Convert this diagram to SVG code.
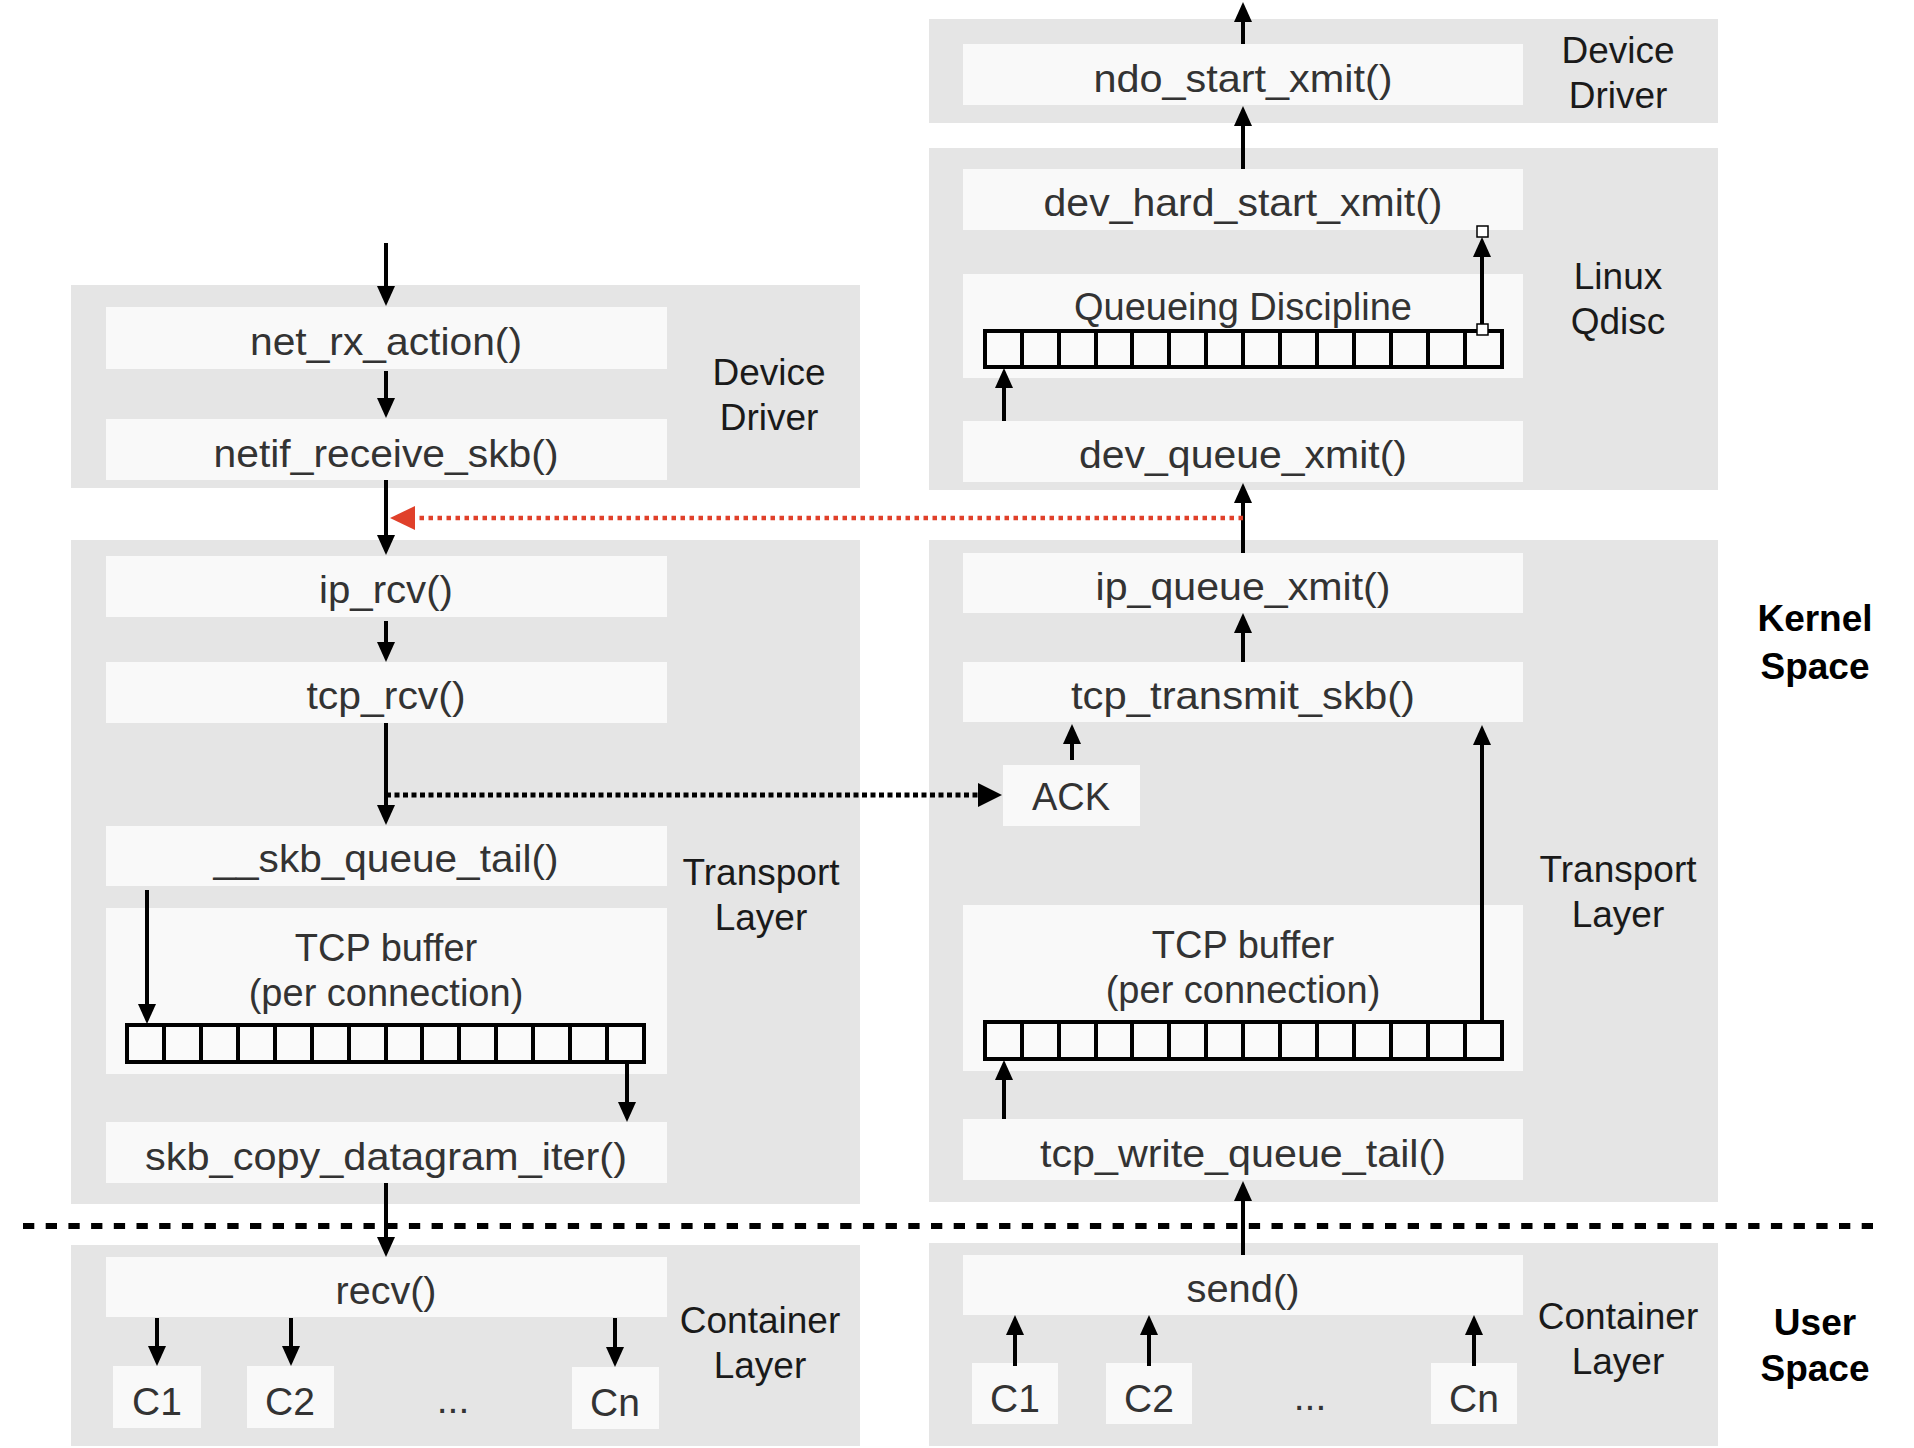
<svg xmlns="http://www.w3.org/2000/svg" width="1914" height="1448" viewBox="0 0 1914 1448">
<style>
.panel{fill:#e5e5e5}
.box{fill:#f9f9f9}
.fn{font-family:"Liberation Sans",Arial,sans-serif;font-size:39px;fill:#333;text-anchor:middle}
.tx{font-family:"Liberation Sans",Arial,sans-serif;font-size:38px;fill:#333;text-anchor:middle}
.lbl{font-family:"Liberation Sans",Arial,sans-serif;font-size:37px;fill:#1a1a1a;text-anchor:middle}
.bold{font-family:"Liberation Sans",Arial,sans-serif;font-size:37px;font-weight:bold;fill:#000;text-anchor:middle}
.arrow{stroke:#000;stroke-width:4;fill:none;marker-end:url(#ah)}
.q{fill:#fafafa;stroke:#000;stroke-width:4}
.ql{stroke:#000;stroke-width:4;fill:none}
.handle{fill:#fff;stroke:#000;stroke-width:1.5}
</style>
<defs>
<marker id="ah" markerUnits="userSpaceOnUse" viewBox="0 0 20 18" markerWidth="20" markerHeight="18" refX="12" refY="9" orient="auto"><path d="M0,0 L20,9 L0,18 z" fill="#000"/></marker>
<marker id="ahBig" markerUnits="userSpaceOnUse" viewBox="0 0 24 24" markerWidth="24" markerHeight="24" refX="16" refY="12" orient="auto"><path d="M0,0 L24,12 L0,24 z" fill="#000"/></marker>
<marker id="ahRed" markerUnits="userSpaceOnUse" viewBox="0 0 25 24" markerWidth="25" markerHeight="24" refX="17" refY="12" orient="auto"><path d="M0,0 L25,12 L0,24 z" fill="#e0402a"/></marker>
</defs>
<rect width="1914" height="1448" fill="#fff"/>

<g id="panels">
<rect id="rx-driver-panel" class="panel" x="71" y="285" width="789" height="203"/>
<rect id="rx-transport-panel" class="panel" x="71" y="540" width="789" height="664"/>
<rect id="rx-container-panel" class="panel" x="71" y="1245" width="789" height="201"/>
<rect id="tx-driver-panel" class="panel" x="929" y="19" width="789" height="104"/>
<rect id="tx-qdisc-panel" class="panel" x="929" y="148" width="789" height="342"/>
<rect id="tx-transport-panel" class="panel" x="929" y="540" width="789" height="662"/>
<rect id="tx-container-panel" class="panel" x="929" y="1243" width="789" height="203"/>
</g>

<g id="labels">
<text class="lbl" x="769" y="385">Device</text><text class="lbl" x="769" y="430">Driver</text>
<text class="lbl" x="761" y="885">Transport</text><text class="lbl" x="761" y="930">Layer</text>
<text class="lbl" x="760" y="1333">Container</text><text class="lbl" x="760" y="1378">Layer</text>
<text class="lbl" x="1618" y="63">Device</text><text class="lbl" x="1618" y="108">Driver</text>
<text class="lbl" x="1618" y="289">Linux</text><text class="lbl" x="1618" y="334">Qdisc</text>
<text class="lbl" x="1618" y="882">Transport</text><text class="lbl" x="1618" y="927">Layer</text>
<text class="lbl" x="1618" y="1329">Container</text><text class="lbl" x="1618" y="1374">Layer</text>
</g>
<g id="kernel-space"><text class="bold" x="1815" y="631">Kernel</text><text class="bold" x="1815" y="679">Space</text></g>
<g id="user-space"><text class="bold" x="1815" y="1335">User</text><text class="bold" x="1815" y="1381">Space</text></g>

<g id="net_rx_action"><rect class="box" x="106" y="307" width="561" height="62"/><text class="fn" x="386" y="355" textLength="272" lengthAdjust="spacingAndGlyphs">net_rx_action()</text></g>
<g id="netif_receive_skb"><rect class="box" x="106" y="419" width="561" height="61"/><text class="fn" x="386" y="467" textLength="345" lengthAdjust="spacingAndGlyphs">netif_receive_skb()</text></g>
<g id="ip_rcv"><rect class="box" x="106" y="556" width="561" height="61"/><text class="fn" x="386" y="603" textLength="134" lengthAdjust="spacingAndGlyphs">ip_rcv()</text></g>
<g id="tcp_rcv"><rect class="box" x="106" y="662" width="561" height="61"/><text class="fn" x="386" y="709" textLength="159" lengthAdjust="spacingAndGlyphs">tcp_rcv()</text></g>
<g id="skb_queue_tail"><rect class="box" x="106" y="826" width="561" height="60"/><text class="fn" x="386" y="872" textLength="345" lengthAdjust="spacingAndGlyphs">__skb_queue_tail()</text></g>
<g id="rx-tcp-buffer"><rect class="box" x="106" y="908" width="561" height="166"/>
<text class="tx" x="386" y="961">TCP buffer</text><text class="tx" x="386" y="1006">(per connection)</text>
<rect class="q" x="127" y="1025" width="517" height="37"/>
<path class="ql" d="M164,1025V1062M201,1025V1062M238,1025V1062M275,1025V1062M312,1025V1062M349,1025V1062M386,1025V1062M422,1025V1062M459,1025V1062M496,1025V1062M533,1025V1062M570,1025V1062M607,1025V1062"/>
</g>
<g id="skb_copy_datagram_iter"><rect class="box" x="106" y="1122" width="561" height="61"/><text class="fn" x="386" y="1170" textLength="482" lengthAdjust="spacingAndGlyphs">skb_copy_datagram_iter()</text></g>
<g id="recv"><rect class="box" x="106" y="1257" width="561" height="60"/><text class="fn" x="386" y="1304" textLength="101" lengthAdjust="spacingAndGlyphs">recv()</text></g>
<g id="rx-c1"><rect class="box" x="113" y="1366" width="88" height="62"/><text class="fn" x="157" y="1415">C1</text></g>
<g id="rx-c2"><rect class="box" x="247" y="1366" width="87" height="62"/><text class="fn" x="290" y="1415">C2</text></g>
<g id="rx-dots"><text class="fn" x="453" y="1413">...</text></g>
<g id="rx-cn"><rect class="box" x="572" y="1367" width="87" height="62"/><text class="fn" x="615" y="1416">Cn</text></g>

<g id="ndo_start_xmit"><rect class="box" x="963" y="44" width="560" height="61"/><text class="fn" x="1243" y="92" textLength="299" lengthAdjust="spacingAndGlyphs">ndo_start_xmit()</text></g>
<g id="dev_hard_start_xmit"><rect class="box" x="963" y="169" width="560" height="61"/><text class="fn" x="1243" y="216" textLength="399" lengthAdjust="spacingAndGlyphs">dev_hard_start_xmit()</text></g>
<g id="queueing-discipline"><rect class="box" x="963" y="274" width="560" height="104"/>
<text class="tx" x="1243" y="320">Queueing Discipline</text>
<rect class="q" x="985" y="331" width="517" height="36"/>
<path class="ql" d="M1022,331V367M1059,331V367M1096,331V367M1132,331V367M1169,331V367M1206,331V367M1243,331V367M1280,331V367M1317,331V367M1354,331V367M1391,331V367M1428,331V367M1465,331V367"/>
</g>
<g id="dev_queue_xmit"><rect class="box" x="963" y="421" width="560" height="61"/><text class="fn" x="1243" y="468" textLength="328" lengthAdjust="spacingAndGlyphs">dev_queue_xmit()</text></g>
<g id="ip_queue_xmit"><rect class="box" x="963" y="553" width="560" height="60"/><text class="fn" x="1243" y="600" textLength="295" lengthAdjust="spacingAndGlyphs">ip_queue_xmit()</text></g>
<g id="tcp_transmit_skb"><rect class="box" x="963" y="662" width="560" height="60"/><text class="fn" x="1243" y="709" textLength="344" lengthAdjust="spacingAndGlyphs">tcp_transmit_skb()</text></g>
<g id="ack"><rect class="box" x="1003" y="765" width="137" height="61"/><text class="tx" x="1071" y="810">ACK</text></g>
<g id="tx-tcp-buffer"><rect class="box" x="963" y="905" width="560" height="166"/>
<text class="tx" x="1243" y="958">TCP buffer</text><text class="tx" x="1243" y="1003">(per connection)</text>
<rect class="q" x="985" y="1022" width="517" height="37"/>
<path class="ql" d="M1022,1022V1059M1059,1022V1059M1096,1022V1059M1132,1022V1059M1169,1022V1059M1206,1022V1059M1243,1022V1059M1280,1022V1059M1317,1022V1059M1354,1022V1059M1391,1022V1059M1428,1022V1059M1465,1022V1059"/>
</g>
<g id="tcp_write_queue_tail"><rect class="box" x="963" y="1119" width="560" height="61"/><text class="fn" x="1243" y="1167" textLength="406" lengthAdjust="spacingAndGlyphs">tcp_write_queue_tail()</text></g>
<g id="send"><rect class="box" x="963" y="1255" width="560" height="60"/><text class="fn" x="1243" y="1302" textLength="113" lengthAdjust="spacingAndGlyphs">send()</text></g>
<g id="tx-c1"><rect class="box" x="972" y="1363" width="86" height="61"/><text class="fn" x="1015" y="1412">C1</text></g>
<g id="tx-c2"><rect class="box" x="1106" y="1363" width="86" height="61"/><text class="fn" x="1149" y="1412">C2</text></g>
<g id="tx-dots"><text class="fn" x="1310" y="1410">...</text></g>
<g id="tx-cn"><rect class="box" x="1431" y="1363" width="86" height="61"/><text class="fn" x="1474" y="1412">Cn</text></g>

<g id="connectors">
<path class="arrow" d="M386,243V298"/>
<path class="arrow" d="M386,371V410"/>
<path class="arrow" d="M386,480V547"/>
<path class="arrow" d="M386,621V654"/>
<path class="arrow" d="M386,723V817"/>
<path d="M386,795H994" stroke="#000" stroke-width="5" stroke-dasharray="5 3.5" fill="none" marker-end="url(#ahBig)"/>
<path class="arrow" d="M147,890V1016"/>
<path class="arrow" d="M627,1062V1114"/>
<path class="arrow" d="M386,1183V1249"/>
<path class="arrow" d="M157,1318V1358"/>
<path class="arrow" d="M291,1318V1358"/>
<path class="arrow" d="M615,1318V1359"/>
<path class="arrow" d="M1243,44V10"/>
<path class="arrow" d="M1243,169V114"/>
<path class="arrow" d="M1482,331V245"/>
<rect class="handle" x="1477" y="226" width="11" height="11"/>
<rect class="handle" x="1477" y="324" width="11" height="11"/>
<path class="arrow" d="M1004,421V376"/>
<path class="arrow" d="M1243,553V491"/>
<path d="M1243,518H398" stroke="#e0402a" stroke-width="4.5" stroke-dasharray="4.5 4.5" fill="none" marker-end="url(#ahRed)"/>
<path class="arrow" d="M1243,662V621"/>
<path class="arrow" d="M1072,760V732"/>
<path class="arrow" d="M1482,1022V733"/>
<path class="arrow" d="M1004,1119V1068"/>
<path class="arrow" d="M1243,1255V1189"/>
<path class="arrow" d="M1015,1366V1323"/>
<path class="arrow" d="M1149,1366V1323"/>
<path class="arrow" d="M1474,1366V1323"/>
<path d="M23,1226H1876" stroke="#000" stroke-width="6" stroke-dasharray="11.3 11.4" fill="none"/>
</g>
</svg>
